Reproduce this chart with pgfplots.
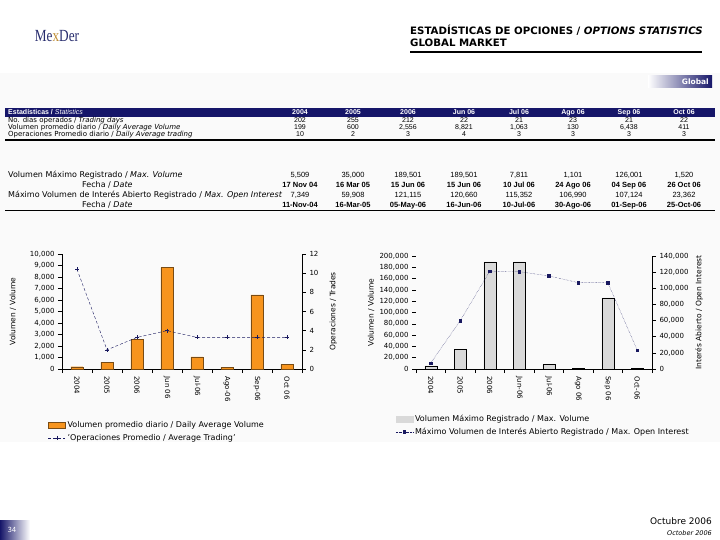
\documentclass[border=0pt]{standalone}
\usepackage{pgfplots}
\pgfplotsset{compat=1.18}
\usepackage{fontspec}
\setmainfont{DejaVu Sans}
\newfontfamily\lib{Liberation Sans}
\newfontfamily\logofont{Liberation Serif}

\definecolor{hdrblue}{RGB}{22,22,105}
\definecolor{logoblue}{RGB}{40,45,110}
\definecolor{logogold}{RGB}{190,140,50}
\definecolor{barorange}{RGB}{247,148,29}
\definecolor{bardraw}{RGB}{120,75,20}
\definecolor{lineblue}{RGB}{25,25,95}
\definecolor{bargray}{RGB}{217,217,217}

\pgfplotsset{
  slide/.style={
    scale only axis,
    xmin=-0.5, xmax=7.5, ymin=0,
    axis line style={black, line width=0.6pt},
    tick style={black, line width=0.6pt},
    tick align=outside,
    major tick length=4pt,
    scaled y ticks=false,
    tick label style={font=\fontsize{7}{8}\selectfont},
    label style={font=\fontsize{7.5}{9}\selectfont},
    /pgf/number format/fixed,
    /pgf/number format/precision=0,
    /pgf/number format/1000 sep={,},
    /pgf/number format/assume math mode=true,
  },
  cats/.style={
    xtick={-0.5,0.5,1.5,2.5,3.5,4.5,5.5,6.5,7.5},
    x tick label as interval,
    xticklabel style={rotate=-90, anchor=west},
  },
}

% one row of eight values, #1 is the row's y in pt
\newcommand\vals[9]{%
  \node at (300pt,-#1pt) {#2};
  \node at (353pt,-#1pt) {#3};
  \node at (408pt,-#1pt) {#4};
  \node at (464pt,-#1pt) {#5};
  \node at (519pt,-#1pt) {#6};
  \node at (573pt,-#1pt) {#7};
  \node at (629pt,-#1pt) {#8};
  \node at (684pt,-#1pt) {#9};
}

\begin{document}
\begin{tikzpicture}
\path[use as bounding box] (0,0) rectangle (720pt,-540pt);
\fill[black!2] (0,-73pt) rectangle (720pt,-442pt);

% logo and title
\node[font=\logofont\fontsize{17}{17}\selectfont, xscale=0.78, text=logoblue] at (57pt,-36pt) {Me\textcolor{logogold}{x}Der};
\node[anchor=west, inner sep=0pt, font=\bfseries\fontsize{10.2}{11}\selectfont] at (410pt,-30pt) {ESTADÍSTICAS DE OPCIONES / \textit{OPTIONS STATISTICS}};
\node[anchor=west, inner sep=0pt, font=\bfseries\fontsize{10.2}{11}\selectfont] at (410pt,-43pt) {GLOBAL MARKET};
\draw[line width=2.5pt] (410pt,-52pt) -- (702pt,-52pt);
\shade[left color=white, right color=hdrblue] (648pt,-76pt) rectangle (712pt,-88pt);
\node[anchor=east, text=white, inner sep=0pt, font=\bfseries\fontsize{7.5}{8}\selectfont] at (709pt,-82pt) {Global};

% table
\begin{scope}[every node/.style={inner sep=0pt, anchor=base, yshift=-2.5pt, font=\lib\fontsize{7}{8}\selectfont}]
  \fill[hdrblue] (5pt,-108pt) rectangle (715pt,-117pt);
  \begin{scope}[every node/.append style={text=white, font=\lib\bfseries\fontsize{7}{8}\selectfont}]
    \node[anchor=base west] at (8pt,-112.5pt) {Estadísticas / \textmd{\itshape Statistics}};
    \vals{112.5}{2004}{2005}{2006}{Jun 06}{Jul 06}{Ago 06}{Sep 06}{Oct 06}
  \end{scope}
  \begin{scope}[every node/.append style={font=\fontsize{7}{8}\selectfont}]
    \node[anchor=base west] at (8pt,-120pt) {No. días operados / \textit{Trading days}};
    \node[anchor=base west] at (8pt,-127pt) {Volumen promedio diario / \textit{Daily Average Volume}};
    \node[anchor=base west] at (8pt,-134pt) {Operaciones Promedio diario / \textit{Daily Average trading}};
  \end{scope}
  \vals{120}{202}{255}{212}{22}{21}{23}{21}{22}
  \vals{127}{199}{600}{2,556}{8,821}{1,063}{130}{6,438}{411}
  \vals{134}{10}{2}{3}{4}{3}{3}{3}{3}
  \draw[line width=1.5pt] (5pt,-140pt) -- (715pt,-140pt);
\end{scope}
\begin{scope}[every node/.style={inner sep=0pt, anchor=base, yshift=-2.7pt, font=\lib\fontsize{7.5}{8}\selectfont}]
  \begin{scope}[every node/.append style={font=\fontsize{8}{9}\selectfont}]
    \node[anchor=base west] at (8pt,-175pt) {Volumen Máximo Registrado / \textit{Max. Volume}};
    \node[anchor=base west] at (82pt,-184.5pt) {Fecha / \textit{Date}};
    \node[anchor=base west] at (8pt,-195pt) {Máximo Volumen de Interés Abierto Registrado / \textit{Max. Open Interest}};
    \node[anchor=base west] at (82pt,-205pt) {Fecha / \textit{Date}};
  \end{scope}
  \vals{175}{5,509}{35,000}{189,501}{189,501}{7,811}{1,101}{126,001}{1,520}
  \vals{195}{7,349}{59,908}{121,115}{120,660}{115,352}{106,990}{107,124}{23,362}
  \begin{scope}[every node/.append style={font=\lib\bfseries\fontsize{7.5}{8}\selectfont}]
    \vals{184.5}{17 Nov 04}{16 Mar 05}{15 Jun 06}{15 Jun 06}{10 Jul 06}{24 Ago 06}{04 Sep 06}{26 Oct 06}
    \vals{205}{11-Nov-04}{16-Mar-05}{05-May-06}{16-Jun-06}{10-Jul-06}{30-Ago-06}{01-Sep-06}{25-Oct-06}
  \end{scope}
  \draw[line width=0.6pt] (5pt,-210.5pt) -- (715pt,-210.5pt);
\end{scope}

% left chart: daily average volume (bars) and trades (line)
\begin{axis}[slide, cats,
    at={(62pt,-369pt)}, anchor=south west, width=240pt, height=115pt,
    axis x line*=bottom, axis y line*=left,
    ymax=10000, ytick={0,1000,...,10000},
    xticklabels={2004,2005,2006,Jun 06,Jul-06,Ago-06,Sep-06,Oct 06},
    ylabel={Volumen / Volume},
    ylabel style={at={(axis description cs:-0.205,0.5)}, anchor=center}]
  \addplot[ybar, bar width=12pt, fill=barorange, draw=bardraw] coordinates {
    (0,199) (1,600) (2,2556) (3,8821) (4,1063) (5,130) (6,6438) (7,411)};
\end{axis}
\begin{axis}[slide,
    at={(62pt,-369pt)}, anchor=south west, width=240pt, height=115pt,
    axis x line=none, axis y line*=right,
    ymax=12, ytick={0,2,...,12},
    ylabel={Operaciones / Trades},
    ylabel style={at={(axis description cs:1.13,0.5)}, anchor=center},
    legend style={draw=none, fill=none, at={(-0.071,-0.42)}, anchor=north west,
      font=\fontsize{8}{9}\selectfont, legend cell align=left, row sep=1pt}]
  \addlegendimage{area legend, fill=barorange, draw=bardraw}
  \addlegendentry{Volumen promedio diario / Daily Average Volume}
  \addplot[lineblue, densely dashed, mark=+, mark size=2pt, mark options={solid}] coordinates {
    (0,10.4) (1,2.0) (2,3.3) (3,4.0) (4,3.3) (5,3.3) (6,3.3) (7,3.3)};
  \addlegendentry{'Operaciones Promedio / Average Trading'}
\end{axis}

% right chart: max volume (bars) and max open interest (line)
\begin{axis}[slide, cats,
    at={(416pt,-369pt)}, anchor=south west, width=236pt, height=113pt,
    axis x line*=bottom, axis y line*=left,
    y axis line style={draw=none},
    ymax=200000, ytick={0,20000,...,200000},
    xticklabels={2004,2005,2006,Jun-06,Jul-06,Ago 06,Sep 06,Oct-06},
    ylabel={Volumen / Volume},
    ylabel style={at={(axis description cs:-0.19,0.5)}, anchor=center}]
  \addplot[ybar, bar width=12pt, fill=bargray, draw=black] coordinates {
    (0,5509) (1,35000) (2,189501) (3,189501) (4,7811) (5,1101) (6,126001) (7,1520)};
\end{axis}
\begin{axis}[slide,
    at={(416pt,-369pt)}, anchor=south west, width=236pt, height=113pt,
    axis x line=none, axis y line*=right,
    ymax=140000, ytick={0,20000,...,140000},
    ylabel={Interés Abierto / Open Interest},
    ylabel style={at={(axis description cs:1.2,0.5)}, anchor=center},
    legend style={draw=none, fill=none, at={(-0.10,-0.37)}, anchor=north west,
      font=\fontsize{8}{9}\selectfont, legend cell align=left, row sep=1pt}]
  \addlegendimage{area legend, fill=bargray, draw=bargray}
  \addlegendentry{Volumen Máximo Registrado / Max. Volume}
  \addplot[lineblue, densely dotted, mark=square*, mark size=1.2pt, mark options={solid}] coordinates {
    (0,7349) (1,59908) (2,121115) (3,120660) (4,115352) (5,106990) (6,107124) (7,23362)};
  \addlegendentry{Máximo Volumen de Interés Abierto Registrado / Max. Open Interest}
\end{axis}

% footer
\shade[left color=hdrblue, right color=white] (0,-520pt) rectangle (30pt,-540pt);
\node[text=white, font=\fontsize{7}{8}\selectfont] at (12pt,-530pt) {34};
\node[anchor=east, inner sep=0pt, font=\fontsize{9}{10}\selectfont] at (712pt,-521pt) {Octubre 2006};
\node[anchor=east, inner sep=0pt, font=\itshape\fontsize{6.5}{7}\selectfont] at (712pt,-533pt) {October 2006};
\end{tikzpicture}
\end{document}
